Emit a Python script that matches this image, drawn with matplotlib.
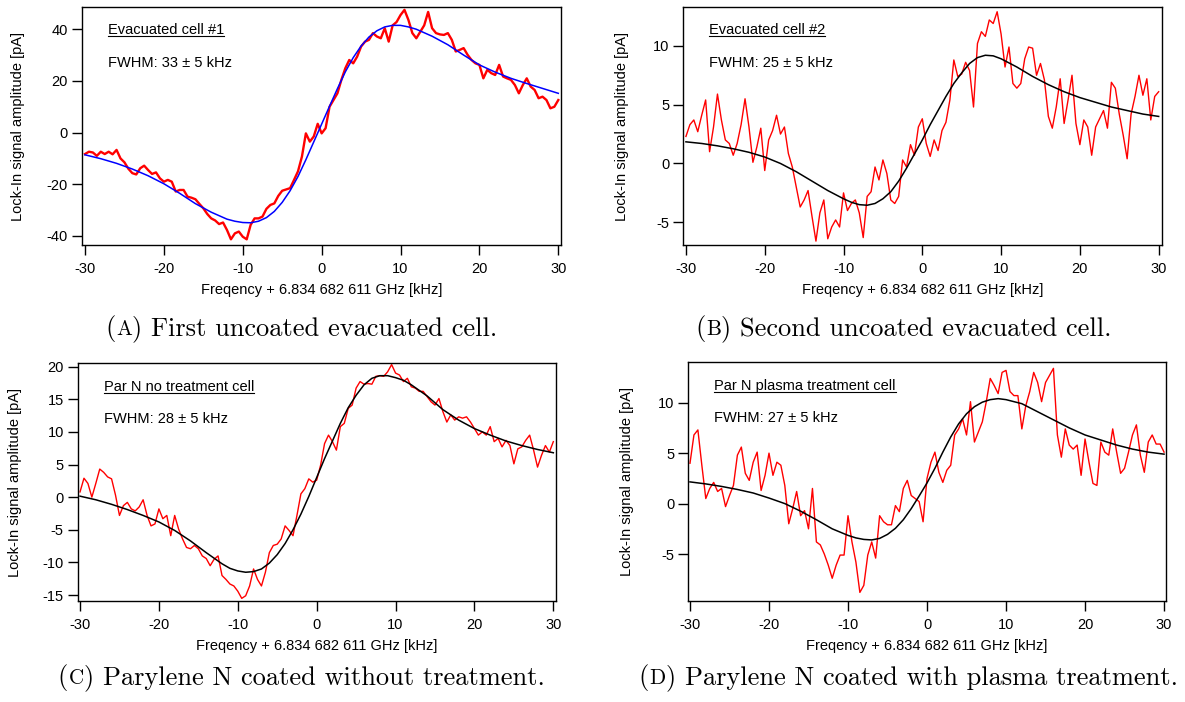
import numpy as np
import matplotlib
matplotlib.use("Agg")
import matplotlib.pyplot as plt

plt.rcParams['font.family'] = ['Liberation Sans', 'DejaVu Sans']
plt.rcParams['axes.unicode_minus'] = False

# Frequency grid of the red traces (kHz, every 0.5 kHz from -30 to 30)
freq = np.arange(-30, 30.25, 0.5)

# (A) evacuated cell #1
sig_a = [-8.3, -7.4, -7.7, -9.0, -7.4, -8.3, -7.4, -8.4, -6.7, -10.0,
         -11.5, -14.0, -15.7, -16.2, -13.8, -12.8, -14.5, -16.0, -15.4, -17.7,
         -19.0, -18.3, -19.0, -22.8, -22.2, -22.2, -24.8, -25.2, -25.8, -27.6,
         -29.3, -31.5, -33.2, -34.0, -35.4, -34.8, -37.7, -41.3, -39.0, -38.3,
         -40.3, -41.3, -35.7, -33.2, -33.2, -32.5, -29.5, -28.0, -27.4, -24.5,
         -22.5, -22.0, -21.5, -18.3, -15.0, -9.3, -0.3, -3.5, -1.5, 3.4,
         -0.3, 1.7, 10.0, 12.6, 15.2, 20.4, 24.9, 28.1, 26.8, 29.4,
         33.3, 35.2, 35.9, 38.5, 37.2, 36.5, 40.4, 35.2, 41.5, 42.8,
         45.5, 47.5, 43.6, 38.5, 36.5, 39.0, 41.5, 46.7, 40.4, 38.5,
         38.0, 37.8, 38.5, 35.9, 31.4, 32.0, 32.7, 30.1, 28.1, 26.8,
         26.2, 21.0, 24.3, 23.0, 22.3, 26.2, 21.7, 21.0, 20.4, 18.4,
         15.2, 18.4, 21.0, 17.8, 16.5, 13.3, 13.9, 12.6, 9.4, 10.0,
         12.6]
fit_x_a = [-30, -28, -26, -24, -22, -20, -18, -16, -14, -12, -11, -10, -9, -8, -7, -6,
           -5, -4, -3, -2, -1, 0, 1, 2, 3, 4, 5, 6, 7, 8, 9, 10, 11, 12, 14, 16, 18,
           20, 22, 24, 26, 28, 30]
fit_a = [-8.6, -10.1, -11.9, -14.1, -16.7, -19.8, -23.5, -27.5, -30.8, -33.5, -34.3,
         -34.8, -34.9, -34.3, -32.9, -30.5, -27.0, -22.5, -17.0, -10.5, -3.6, 3.3,
         10.2, 17.0, 23.5, 29.0, 33.5, 37.0, 39.4, 40.9, 41.5, 41.5, 40.9, 40.0, 37.3,
         34.0, 30.0, 26.2, 23.4, 21.0, 19.0, 17.1, 15.2]

# (B) evacuated cell #2
sig_b = [2.3, 3.3, 3.7, 2.7, 4.1, 5.4, 1.0, 3.1, 5.9, 3.7,
         2.0, 1.7, 0.7, 1.7, 3.3, 5.5, 3.1, 0.1, 1.4, 3.0,
         -0.6, 2.0, 2.8, 4.1, 2.5, 3.1, 0.85, -0.3, -2.0, -3.7,
         -3.1, -2.3, -4.5, -6.6, -4.2, -3.1, -6.4, -5.4, -4.8, -5.4,
         -2.5, -4.0, -3.4, -3.1, -4.2, -6.3, -2.8, -2.4, -0.3, -1.4,
         0.3, -0.85, -3.1, -3.4, -2.8, 0.3, -0.3, 1.6, 0.7, 3.1,
         3.8, 1.7, 0.6, 2.0, 1.1, 2.8, 3.5, 5.4, 8.8, 7.4,
         7.6, 8.6, 7.9, 4.8, 10.2, 11.2, 10.8, 12.2, 11.9, 12.9,
         11.0, 8.2, 9.9, 6.8, 6.4, 6.8, 8.9, 9.9, 9.8, 7.5,
         8.5, 7.1, 4.0, 3.0, 4.8, 7.2, 3.4, 5.4, 7.5, 3.4,
         1.6, 3.7, 3.1, 0.7, 3.1, 3.8, 4.5, 3.0, 6.9, 6.4,
         4.2, 2.4, 0.4, 4.2, 5.7, 7.5, 5.8, 7.2, 3.7, 5.7,
         6.1]
fit_x_b = [-30, -28, -26, -24, -22, -20, -18, -16, -14, -12, -10, -9, -8, -7, -6, -5,
           -4, -3, -2, -1, 0, 1, 2, 3, 4, 5, 6, 7, 8, 9, 10, 12, 14, 16, 18, 20, 22,
           24, 26, 28, 30]
fit_b = [1.84, 1.7, 1.5, 1.25, 0.95, 0.55, 0.0, -0.7, -1.5, -2.3, -3.0, -3.3, -3.5,
         -3.55, -3.4, -3.0, -2.4, -1.5, -0.4, 0.8, 2.0, 3.3, 4.5, 5.7, 6.8, 7.7, 8.5,
         9.0, 9.2, 9.15, 8.9, 8.2, 7.4, 6.7, 6.1, 5.6, 5.2, 4.8, 4.5, 4.2, 4.0]

# (C) Parylene N, no treatment
sig_c = [0.8, 2.9, 2.1, 0.0, 2.1, 4.3, 3.8, 3.1, 2.8, 0.3,
         -2.8, -1.3, -0.8, -1.8, -2.1, -1.5, -0.4, -2.8, -4.4, -4.1,
         -1.8, -3.3, -2.8, -5.9, -2.8, -4.9, -6.4, -7.7, -7.9, -7.4,
         -7.9, -9.0, -9.4, -10.5, -9.5, -9.0, -12.0, -12.6, -13.3, -13.6,
         -14.4, -15.5, -15.1, -13.6, -11.0, -12.6, -13.6, -11.5, -8.5, -7.4,
         -7.2, -6.4, -4.4, -5.1, -5.9, -2.8, 0.5, 1.3, 2.8, 2.3,
         2.6, 4.9, 8.2, 9.5, 8.5, 7.2, 10.8, 11.3, 13.6, 14.1,
         16.7, 17.7, 17.3, 17.4, 17.3, 18.5, 18.6, 18.5, 19.2, 20.3,
         19.0, 18.7, 17.7, 18.2, 16.9, 16.7, 16.2, 16.2, 15.4, 14.6,
         14.1, 15.1, 13.1, 11.5, 12.6, 11.8, 12.3, 12.1, 12.3, 11.5,
         10.5, 9.5, 10.0, 9.5, 10.8, 8.5, 9.0, 7.7, 8.7, 7.9,
         5.1, 7.4, 7.7, 8.7, 9.5, 7.2, 4.6, 6.4, 7.9, 6.9,
         8.5]
fit_x_c = [-30, -28, -26, -24, -22, -20, -18, -16, -14, -12, -11, -10, -9, -8, -7, -6,
           -5, -4, -3, -2, -1, 0, 1, 2, 3, 4, 5, 6, 7, 8, 9, 10, 11, 12, 14, 16, 18,
           20, 22, 24, 26, 28, 30]
fit_c = [0.15, -0.4, -1.1, -1.9, -2.8, -3.8, -5.1, -6.7, -8.5, -10.2, -10.9, -11.3,
         -11.5, -11.4, -11.0, -10.1, -8.8, -7.1, -5.0, -2.6, 0.1, 3.0, 5.9, 8.6, 11.3,
         13.7, 15.6, 17.2, 18.2, 18.6, 18.6, 18.3, 17.9, 17.2, 15.5, 13.4, 11.8, 10.5,
         9.5, 8.6, 7.9, 7.3, 6.8]

# (D) Parylene N, plasma treatment
sig_d = [4.0, 6.8, 7.3, 3.8, 0.5, 1.5, 2.1, 1.2, 1.5, -0.3,
         0.8, 1.8, 4.8, 5.6, 3.0, 2.3, 4.1, 5.1, 1.3, 2.8,
         5.0, 2.8, 4.1, 3.8, 1.8, -2.0, -0.5, 1.2, -1.2, -0.7,
         -2.5, 1.5, -3.8, -4.1, -5.0, -6.1, -7.4, -6.1, -5.1, -5.1,
         -1.2, -3.8, -5.8, -8.8, -8.1, -5.1, -3.8, -5.4, -1.2, -1.8,
         -2.1, -2.1, -0.2, -0.8, 1.5, 2.3, 0.8, 0.5, 0.2, -1.8,
         2.5, 4.1, 5.1, 3.1, 2.1, 3.3, 3.8, 6.8, 7.4, 8.4,
         6.8, 10.1, 6.1, 7.1, 8.1, 10.1, 12.4, 11.7, 10.9, 13.0,
         13.2, 11.1, 10.7, 10.7, 7.4, 9.7, 11.1, 13.0, 12.0, 10.1,
         12.0, 12.7, 13.4, 6.8, 4.6, 7.4, 5.8, 5.4, 5.8, 2.8,
         6.4, 4.1, 2.0, 1.8, 6.1, 5.1, 4.8, 7.4, 5.1, 3.0,
         3.5, 5.1, 6.8, 7.8, 4.8, 3.1, 6.1, 6.8, 5.9, 5.9,
         5.1]
fit_x_d = [-30, -28, -26, -24, -22, -20, -18, -16, -14, -12, -10, -9, -8, -7, -6, -5,
           -4, -3, -2, -1, 0, 1, 2, 3, 4, 5, 6, 7, 8, 9, 10, 12, 14, 16, 18, 20, 22,
           24, 26, 28, 30]
fit_d = [2.15, 1.95, 1.7, 1.4, 1.05, 0.55, 0.0, -0.75, -1.6, -2.5, -3.15, -3.4, -3.55,
         -3.6, -3.45, -3.05, -2.45, -1.6, -0.5, 0.75, 2.05, 3.5, 5.1, 6.6, 7.9, 8.9,
         9.6, 10.05, 10.3, 10.4, 10.3, 9.9, 9.1, 8.3, 7.5, 6.8, 6.3, 5.8, 5.4, 5.1, 4.9]

titles = ["Evacuated cell #1", "Evacuated cell #2",
          "Par N no treatment cell", "Par N plasma treatment cell"]
fwhm = ["FWHM: 33 \u00b1 5 kHz", "FWHM: 25 \u00b1 5 kHz",
        "FWHM: 28 \u00b1 5 kHz", "FWHM: 27 \u00b1 5 kHz"]
captions = [("A", "First uncoated evacuated cell."),
            ("B", "Second uncoated evacuated cell."),
            ("C", "Parylene N coated without treatment."),
            ("D", "Parylene N coated with plasma treatment.")]

W, H = 1185, 702
fig = plt.figure(figsize=(W / 100, H / 100), dpi=100)

panels = [
    dict(rect=[0.0692, 0.651, 0.4042, 0.339], sig=sig_a, fx=fit_x_a, fy=fit_a,
         fc='#0000ff', lw=1.7, xlim=(-30.38, 30.34), ylim=(-43.5, 48.6),
         yt=[-40, -20, 0, 20, 40], ylx=-0.1336),
    dict(rect=[0.5766, 0.651, 0.4037, 0.339], sig=sig_b, fx=fit_x_b, fy=fit_b,
         fc='black', lw=1.0, xlim=(-30.34, 30.38), ylim=(-6.93, 13.3),
         yt=[-5, 0, 5, 10], ylx=-0.1288),
    dict(rect=[0.0656, 0.1439, 0.4036, 0.3386], sig=sig_c, fx=fit_x_c, fy=fit_c,
         fc='black', lw=1.0, xlim=(-30.29, 30.34), ylim=(-15.9, 20.5),
         yt=[-15, -10, -5, 0, 5, 10, 15, 20], ylx=-0.131),
    dict(rect=[0.5808, 0.1439, 0.4032, 0.3400], sig=sig_d, fx=fit_x_d, fy=fit_d,
         fc='black', lw=1.0, xlim=(-30.22, 30.25), ylim=(-9.65, 14.0),
         yt=[-5, 0, 5, 10], ylx=-0.129),
]

axes = []
label_texts = []
for i, p in enumerate(panels):
    ax = fig.add_axes(p['rect'])
    ax.plot(freq, p['sig'], color='#ff0000', lw=p['lw'])
    ax.plot(p['fx'], p['fy'], color=p['fc'], lw=1.1)
    ax.set_xlim(*p['xlim'])
    ax.set_ylim(*p['ylim'])
    ax.set_xticks([-30, -20, -10, 0, 10, 20, 30])
    ax.set_yticks(p['yt'])
    ax.tick_params(direction='out', length=7, width=1, labelsize=10.5, pad=3)
    ax.tick_params(axis='x', pad=5)
    for s in ax.spines.values():
        s.set_linewidth(1)
    ax.set_xlabel("Freqency + 6.834 682 611 GHz [kHz]", fontsize=10.5)
    ax.set_ylabel("Lock-In signal amplitude [pA]", fontsize=10.5)
    ax.xaxis.label.set_va('center')
    ax.yaxis.label.set_va('center')
    ax.xaxis.set_label_coords(0.5, -0.19)
    ax.yaxis.set_label_coords(p['ylx'], 0.5)
    t = ax.text(0.054, 0.885, titles[i], transform=ax.transAxes,
                fontsize=10.5, va='baseline')
    ax.text(0.054, 0.75, fwhm[i], transform=ax.transAxes,
            fontsize=10.5, va='baseline')
    axes.append(ax)
    label_texts.append(t)

fig.canvas.draw()
r = fig.canvas.get_renderer()

# underline the cell names
for ax, t in zip(axes, label_texts):
    bb = t.get_window_extent(r)
    inv = ax.transAxes.inverted()
    x0 = inv.transform((bb.x0, 0))[0]
    x1 = inv.transform((bb.x1, 0))[0]
    ax_h = ax.get_window_extent(r).height
    y = 0.885 - 2.0 / ax_h
    ax.plot([x0, x1], [y, y], transform=ax.transAxes, color='black',
            lw=0.8, clip_on=False)

# captions with small caps letter
cap_pos = [(301, 335), (903, 335), (301, 684), (908, 684)]
for (letter, rest), (xc, yb) in zip(captions, cap_pos):
    parts = [("(", 19), (letter, 15.2), (") " + rest, 19)]
    texts = [fig.text(0, 1 - yb / H, s, fontsize=fs, family='cmr10',
                      va='baseline') for s, fs in parts]
    widths = [tx.get_window_extent(r).width for tx in texts]
    x = xc - sum(widths) / 2
    for tx, w in zip(texts, widths):
        tx.set_x(x / W)
        x += w + 0.5

fig.savefig("out.png", dpi=100)
